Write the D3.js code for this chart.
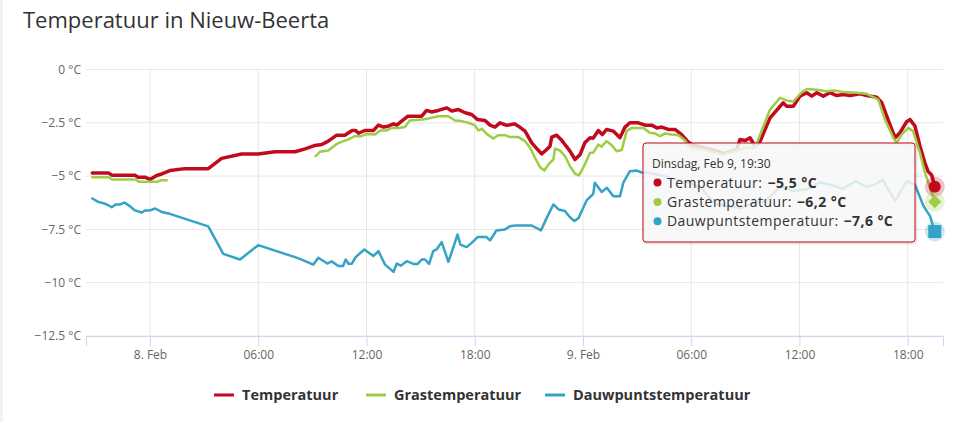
<!DOCTYPE html>
<html>
<head>
<meta charset="utf-8">
<script src="https://cdn.jsdelivr.net/npm/d3@7"></script>
<style>
  body { margin: 0; background: #fff; }
  svg { display: block; font-family: "Open Sans", sans-serif; }
</style>
</head>
<body>
<div id="chart"></div>
<script>
// uren vanaf 8 feb 2021 00:00, temperatuur in graden C
var temperatuur = [
  [-3.2,-4.86],[-2.3,-4.86],[-2.1,-4.96],[-0.83,-4.96],[-0.66,-5.05],[-0.28,-5.05],[0,-5.16],[0.37,-4.97],
  [0.65,-4.9],[1.1,-4.74],[1.94,-4.65],[3.23,-4.65],[3.97,-4.17],[5.08,-3.96],[6.0,-3.96],[6.93,-3.86],
  [8.04,-3.86],[8.6,-3.72],[9.15,-3.56],[9.52,-3.52],[9.88,-3.36],[10.35,-3.08],[10.8,-3.08],[11.2,-2.86],
  [11.4,-2.86],[11.56,-2.99],[11.9,-2.86],[12.38,-2.86],[12.66,-2.61],[12.94,-2.7],[13.2,-2.66],[13.5,-2.55],
  [13.68,-2.61],[13.95,-2.42],[14.3,-2.19],[15.06,-2.19],[15.33,-1.92],[15.6,-1.99],[15.98,-1.92],[16.45,-1.8],
  [16.73,-1.95],[17.1,-1.88],[17.47,-2.03],[17.83,-2.11],[18.16,-2.35],[18.57,-2.39],[18.85,-2.61],[19.12,-2.7],
  [19.4,-2.5],[19.77,-2.62],[20.2,-2.55],[20.42,-2.66],[20.79,-2.89],[21.16,-3.44],[21.44,-3.71],[21.71,-3.96],
  [21.99,-3.75],[22.17,-3.6],[22.27,-3.17],[22.54,-3.08],[22.78,-3.28],[23.0,-3.52],[23.28,-3.83],[23.56,-4.22],
  [23.84,-3.99],[24.1,-3.44],[24.39,-3.2],[24.57,-3.22],[24.85,-2.86],[25.07,-3.05],[25.31,-2.81],[25.68,-2.89],
  [26.05,-3.2],[26.33,-2.7],[26.6,-2.5],[27.07,-2.5],[27.44,-2.61],[27.8,-2.61],[28.1,-2.74],[28.36,-2.7],
  [28.73,-2.81],[29.1,-2.81],[29.47,-3.05],[29.75,-3.33],[30.03,-3.52],[30.67,-3.67],[31.3,-3.8],[31.78,-3.95],
  [32.52,-3.75],[32.7,-3.28],[33.0,-3.33],[33.26,-3.2],[33.54,-3.6],[33.8,-3.4],[34.37,-2.27],[35.1,-1.56],
  [35.29,-1.72],[35.66,-1.72],[36.03,-1.25],[36.4,-1.09],[36.68,-1.25],[36.96,-1.09],[37.32,-1.25],[37.69,-1.09],
  [38.07,-1.22],[38.43,-1.17],[38.8,-1.22],[39.36,-1.14],[39.73,-1.22],[40.28,-1.3],[40.56,-1.55],[40.93,-2.4],
  [41.3,-3.2],[41.57,-2.97],[41.94,-2.45],[42.13,-2.35],[42.4,-2.65],[42.68,-3.6],[42.96,-4.4],[43.14,-4.8],
  [43.33,-4.95],[43.5,-5.5]
];

var grastemperatuur = [
  [-3.2,-5.05],[-2.3,-5.05],[-2.1,-5.16],[-0.8,-5.16],[-0.6,-5.27],[0.37,-5.27],[0.6,-5.2],[0.93,-5.2],
  [5.0,null],
  [9.18,-4.06],[9.42,-3.86],[9.88,-3.8],[10.35,-3.49],[10.72,-3.36],[11.0,-3.28],[11.36,-3.13],[11.73,-3.13],
  [12.0,-3.02],[12.47,-3.05],[12.75,-2.86],[13.12,-2.86],[13.4,-2.74],[13.77,-2.74],[14.13,-2.7],[14.4,-2.39],
  [15.1,-2.35],[15.43,-2.3],[15.98,-2.19],[16.54,-2.19],[16.9,-2.39],[17.28,-2.42],[17.64,-2.5],[18.0,-2.61],
  [18.2,-2.86],[18.4,-2.78],[18.66,-3.02],[19.03,-3.24],[19.3,-3.08],[19.68,-3.08],[19.96,-3.17],[20.42,-3.17],
  [20.79,-3.36],[21.07,-3.67],[21.34,-4.14],[21.62,-4.58],[21.86,-4.74],[22.08,-4.46],[22.36,-4.22],[22.45,-3.71],
  [22.73,-3.8],[23.0,-4.06],[23.28,-4.53],[23.56,-4.89],[23.78,-4.97],[24.1,-4.46],[24.39,-3.91],[24.57,-3.9],
  [24.85,-3.52],[25.03,-3.62],[25.31,-3.36],[25.59,-3.55],[25.87,-3.83],[26.15,-3.78],[26.42,-2.89],[26.7,-2.74],
  [27.35,-2.74],[27.7,-2.97],[27.99,-3.0],[28.27,-3.13],[28.55,-3.0],[28.92,-3.05],[29.3,-3.08],[29.66,-3.33],
  [29.93,-3.67],[30.67,-3.75],[31.78,-4.0],[32.5,-3.8],[33.0,-3.67],[33.54,-3.67],[34.0,-2.66],[34.37,-1.88],
  [34.92,-1.33],[35.29,-1.45],[35.66,-1.5],[36.1,-1.09],[36.4,-0.91],[36.96,-0.95],[37.5,-1.02],[37.9,-0.98],
  [38.43,-1.05],[39.17,-1.09],[39.73,-1.14],[40.37,-1.41],[40.74,-2.35],[41.2,-3.2],[41.38,-3.44],[41.66,-3.05],
  [42.03,-2.74],[42.3,-2.89],[42.68,-3.91],[42.96,-4.85],[43.24,-5.55],[43.5,-6.2]
];

var dauwpunt = [
  [-3.2,-6.05],[-2.87,-6.21],[-2.59,-6.27],[-2.4,-6.33],[-2.12,-6.46],[-1.9,-6.33],[-1.66,-6.33],[-1.42,-6.24],
  [-1.2,-6.36],[-0.83,-6.61],[-0.46,-6.71],[-0.28,-6.61],[0,-6.61],[0.28,-6.52],[0.65,-6.68],[1.1,-6.77],
  [3.23,-7.36],[4.06,-8.65],[4.99,-8.91],[6.0,-8.24],[8.04,-8.8],[8.3,-8.88],[9.06,-9.15],[9.33,-8.83],
  [9.83,-9.1],[10.07,-9.0],[10.44,-9.22],[10.7,-9.22],[10.85,-8.91],[11.0,-9.11],[11.19,-9.11],[11.4,-8.8],
  [11.88,-8.44],[12.38,-8.75],[12.66,-8.52],[13.03,-9.15],[13.5,-9.49],[13.68,-9.1],[13.9,-9.2],[14.23,-8.99],
  [14.6,-9.12],[14.84,-9.12],[15.06,-8.91],[15.25,-8.91],[15.47,-9.12],[15.7,-8.52],[15.88,-8.44],[16.17,-8.1],
  [16.54,-9.02],[17.05,-7.74],[17.2,-8.21],[17.55,-8.33],[17.83,-8.13],[18.16,-7.86],[18.66,-7.86],[18.85,-8.02],
  [19.2,-7.55],[19.68,-7.5],[19.96,-7.35],[20.23,-7.32],[21.16,-7.32],[21.35,-7.4],[21.67,-7.55],[21.99,-6.96],
  [22.36,-6.33],[22.66,-6.57],[23.0,-6.64],[23.28,-6.93],[23.52,-7.11],[23.76,-6.96],[24.2,-6.14],[24.57,-5.83],
  [24.66,-5.31],[25.04,-5.75],[25.32,-5.55],[25.68,-5.94],[26.05,-5.94],[26.24,-5.31],[26.6,-4.77],[26.98,-4.74],
  [27.26,-4.83],[27.7,-4.85],[28.5,-5.0],[29.3,-5.2],[29.93,-5.31],[30.6,-5.6],[31.3,-6.3],[32.0,-6.4],
  [32.7,-6.5],[33.3,-6.3],[34.1,-6.17],[35.0,-5.47],[35.6,-5.7],[36.5,-5.6],[37.1,-5.3],[37.7,-5.39],
  [38.4,-5.6],[39.1,-5.24],[39.7,-5.5],[40.2,-5.4],[40.6,-5.16],[41.3,-6.17],[41.95,-5.24],[42.4,-5.4],
  [42.88,-6.41],[43.24,-6.88],[43.5,-7.6]
];

var seriesNames = ["Temperatuur", "Grastemperatuur", "Dauwpuntstemperatuur"];
var seriesColors = ["#c20a1e", "#9dcc46", "#35a3c6"];
var yTicks = [0, -2.5, -5, -7.5, -10, -12.5];
var xTickHours = [0, 6, 12, 18, 24, 30, 36, 42];
var tooltipTitle = "Dinsdag, Feb 9, 19:30";
var tooltipValues = ["−5,5 °C", "−6,2 °C", "−7,6 °C"];

var svgWidth = 957;
var svgHeight = 422;
var plot = {left: 86, right: 943, top: 69.5, bottom: 336};

var svg = d3.select("#chart").append("svg")
            .attr("width", svgWidth)
            .attr("height", svgHeight);

var base = new Date(2021, 1, 8, 0, 0);
function toDate(h) { return new Date(base.getTime() + h * 3600e3); }

var xScale = d3.scaleTime()
               .domain([toDate(0), toDate(42)])
               .range([150, 907.7]);
xScale.domain([xScale.invert(plot.left), xScale.invert(plot.right)])
      .range([plot.left, plot.right]);

var yScale = d3.scaleLinear()
               .domain([-12.5, 0])
               .range([plot.bottom, plot.top]);

// linker randje
svg.append("rect").attr("x", 0).attr("y", 0).attr("width", 3).attr("height", svgHeight).attr("fill", "#f1f1f1");

svg.append("text")
   .attr("x", 23).attr("y", 28)
   .attr("font-size", 22).attr("fill", "#333")
   .text("Temperatuur in Nieuw-Beerta");

// gridlijnen
svg.append("g").selectAll("line").data(yTicks).enter().append("line")
   .attr("x1", plot.left).attr("x2", plot.right)
   .attr("y1", d => yScale(d)).attr("y2", d => yScale(d))
   .attr("stroke", "#e6e6e6");

svg.append("g").selectAll("line").data(xTickHours).enter().append("line")
   .attr("x1", d => xScale(toDate(d))).attr("x2", d => xScale(toDate(d)))
   .attr("y1", plot.top).attr("y2", plot.bottom)
   .attr("stroke", "#e6e6e6");

var fmt = d3.timeFormat("%H:%M");
var bottomAxis = d3.axisBottom(xScale)
                   .tickValues(xTickHours.map(toDate))
                   .tickSize(10)
                   .tickPadding(4)
                   .tickFormat(d => d.getHours() === 0 ? d.getDate() + ". Feb" : fmt(d));

var xAxisG = svg.append("g")
                .attr("transform", `translate(0,${plot.bottom})`)
                .call(bottomAxis);
xAxisG.select(".domain").attr("stroke", "#ccd6eb");
xAxisG.selectAll(".tick line").attr("stroke", "#ccd6eb");
xAxisG.selectAll("text").attr("font-size", 12).attr("fill", "#666").attr("font-family", "Open Sans");

var leftAxis = d3.axisLeft(yScale)
                 .tickValues(yTicks)
                 .tickSize(0)
                 .tickPadding(5)
                 .tickFormat(d => (d < 0 ? "−" : "") + Math.abs(d) + " °C");

var yAxisG = svg.append("g")
                .attr("transform", `translate(${plot.left},0)`)
                .call(leftAxis);
yAxisG.select(".domain").remove();
yAxisG.selectAll("text").attr("font-size", 12).attr("fill", "#666").attr("font-family", "Open Sans");

// lijnen
var line = d3.line()
             .defined(d => d[1] !== null)
             .x(d => xScale(toDate(d[0])))
             .y(d => yScale(d[1]));

var allSeries = [temperatuur, grastemperatuur, dauwpunt];
var widths = [3.5, 2.5, 2.5];

svg.append("g").selectAll("path").data(allSeries).enter().append("path")
   .attr("d", line)
   .attr("fill", "none")
   .attr("stroke", (d, i) => seriesColors[i])
   .attr("stroke-width", (d, i) => widths[i])
   .attr("stroke-linejoin", "round")
   .attr("stroke-linecap", "round");

// hover markers op het laatste punt
var last = allSeries.map(s => s[s.length - 1]);
var markers = svg.append("g");
last.forEach(function(p, i) {
  var cx = xScale(toDate(p[0])), cy = yScale(p[1]);
  markers.append("circle").attr("cx", cx).attr("cy", cy).attr("r", 10)
         .attr("fill", seriesColors[i]).attr("opacity", 0.25);
  if (i === 0) {
    markers.append("circle").attr("cx", cx).attr("cy", cy).attr("r", 6)
           .attr("fill", seriesColors[i]);
  } else if (i === 1) {
    markers.append("path")
           .attr("d", `M${cx},${cy - 6.5}L${cx + 6.5},${cy}L${cx},${cy + 6.5}L${cx - 6.5},${cy}Z`)
           .attr("fill", seriesColors[i]);
  } else {
    markers.append("rect").attr("x", cx - 6.5).attr("y", cy - 6.5)
           .attr("width", 13).attr("height", 13)
           .attr("fill", seriesColors[i]);
  }
});

// tooltip
var tip = svg.append("g").attr("transform", "translate(643,143)");
tip.append("rect").attr("x", 1).attr("y", 1).attr("width", 272).attr("height", 99).attr("rx", 3)
   .attr("fill", "none").attr("stroke", "#000").attr("stroke-opacity", 0.1).attr("stroke-width", 3);
tip.append("rect").attr("x", 0).attr("y", 0).attr("width", 272).attr("height", 99).attr("rx", 3)
   .attr("fill", "rgba(247,247,247,0.85)").attr("stroke", seriesColors[0]).attr("stroke-width", 1);
tip.append("text").attr("x", 9).attr("y", 24.5)
   .attr("font-size", 12).attr("fill", "#333").text(tooltipTitle);
seriesNames.forEach(function(name, i) {
  var yy = 44.5 + i * 19.4;
  tip.append("circle").attr("cx", 14.5).attr("cy", yy - 5).attr("r", 4).attr("fill", seriesColors[i]);
  var label = tip.append("text").attr("x", 24).attr("y", yy).attr("font-size", 14)
                 .attr("letter-spacing", 0.45).attr("fill", "#333")
                 .text(name + ":");
  var w = label.node().getComputedTextLength();
  tip.append("text").attr("x", 24 + w + 5).attr("y", yy).attr("font-size", 14)
     .attr("letter-spacing", 0.45).attr("fill", "#333")
     .attr("font-weight", "bold").text(tooltipValues[i]);
});

// legenda
var legendX = [214, 366, 545];
var legend = svg.append("g");
seriesNames.forEach(function(name, i) {
  legend.append("line").attr("x1", legendX[i]).attr("x2", legendX[i] + 20)
        .attr("y1", 395).attr("y2", 395)
        .attr("stroke", seriesColors[i]).attr("stroke-width", 3);
  legend.append("text").attr("x", legendX[i] + 28).attr("y", 400)
        .attr("font-size", 14.5).attr("font-weight", "bold").attr("fill", "#333")
        .text(name);
});
</script>
</body>
</html>
